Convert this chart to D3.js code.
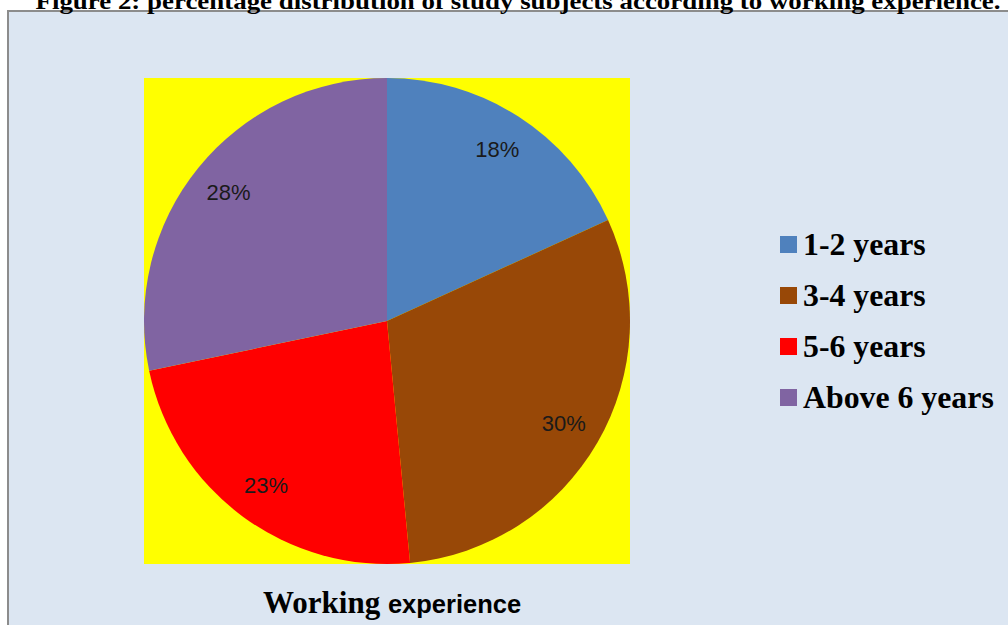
<!DOCTYPE html>
<html>
<head>
<meta charset="utf-8">
<script src="https://cdn.jsdelivr.net/npm/d3@7"></script>
<style>
  body { margin: 0; background: #ffffff; }
</style>
</head>
<body>
<div id="chart"></div>
<script>
// Chart data
var categories = ["1-2 years", "3-4 years", "5-6 years", "Above 6 years"];
var percents = [18, 30, 23, 28];
var colors = ["#4f81bd", "#984807", "#ff0000", "#8064a2"];
var chartTitle = "Figure 2: percentage distribution of study subjects according to working experience.";

var width = 1008, height = 625;

var svg = d3.select("#chart")
  .append("svg")
  .attr("width", width)
  .attr("height", height);

// Outer chart area with grey border
svg.append("rect")
  .attr("x", 8)
  .attr("y", 11)
  .attr("width", width + 10)
  .attr("height", height)
  .attr("fill", "#dce6f2")
  .attr("stroke", "#8c8c8c")
  .attr("stroke-width", 2);

// Title (partly cut off at the top, like the source)
svg.append("text")
  .attr("x", 518)
  .attr("y", 9)
  .attr("text-anchor", "middle")
  .style("font-family", "Liberation Serif, Times New Roman, serif")
  .style("font-weight", "bold")
  .style("font-size", "24px")
  .attr("textLength", 965)
  .attr("lengthAdjust", "spacingAndGlyphs")
  .text(chartTitle);

// Plot area (yellow)
var plot = { x: 144, y: 78, size: 486 };
svg.append("rect")
  .attr("x", plot.x)
  .attr("y", plot.y)
  .attr("width", plot.size)
  .attr("height", plot.size)
  .attr("fill", "#ffff00");

var cx = 387, cy = 321, radius = 243;

var pieData = categories.map(function (c, i) {
  return { category: c, value: percents[i], color: colors[i] };
});

var pie = d3.pie()
  .sort(null)
  .value(function (d) { return d.value; });

var arc = d3.arc().innerRadius(0).outerRadius(radius);
var labelArc = d3.arc().innerRadius(radius * 0.84).outerRadius(radius * 0.84);

var g = svg.append("g")
  .attr("transform", "translate(" + cx + "," + cy + ")");

var slices = g.selectAll(".arc")
  .data(pie(pieData))
  .enter()
  .append("g")
  .attr("class", "arc");

slices.append("path")
  .attr("d", arc)
  .attr("fill", function (d) { return d.data.color; });

// Percentage labels
slices.append("text")
  .attr("transform", function (d) { return "translate(" + labelArc.centroid(d) + ")"; })
  .attr("dy", "0.35em")
  .attr("text-anchor", "middle")
  .style("font-family", "Liberation Sans, Arial, sans-serif")
  .style("font-size", "22px")
  .style("fill", "#1a1a1a")
  .text(function (d) { return d.data.value + "%"; });

// Legend
var legend = svg.selectAll(".legend")
  .data(pieData)
  .enter()
  .append("g")
  .attr("class", "legend")
  .attr("transform", function (d, i) {
    return "translate(780," + (236 + i * 51) + ")";
  });

legend.append("rect")
  .attr("width", 17)
  .attr("height", 17)
  .attr("fill", function (d) { return d.color; });

legend.append("text")
  .attr("x", 23)
  .attr("y", 19)
  .style("font-family", "Liberation Serif, Times New Roman, serif")
  .style("font-weight", "bold")
  .style("font-size", "31.8px")
  .text(function (d) { return d.category; });

// Bottom caption
var caption = svg.append("text")
  .attr("x", 263)
  .attr("y", 613)
  .style("font-weight", "bold");

caption.append("tspan")
  .style("font-family", "Liberation Serif, Times New Roman, serif")
  .style("font-size", "31px")
  .text("Working ");

caption.append("tspan")
  .style("font-family", "Liberation Sans, Arial, sans-serif")
  .style("font-size", "25.5px")
  .text("experience");
</script>
</body>
</html>
